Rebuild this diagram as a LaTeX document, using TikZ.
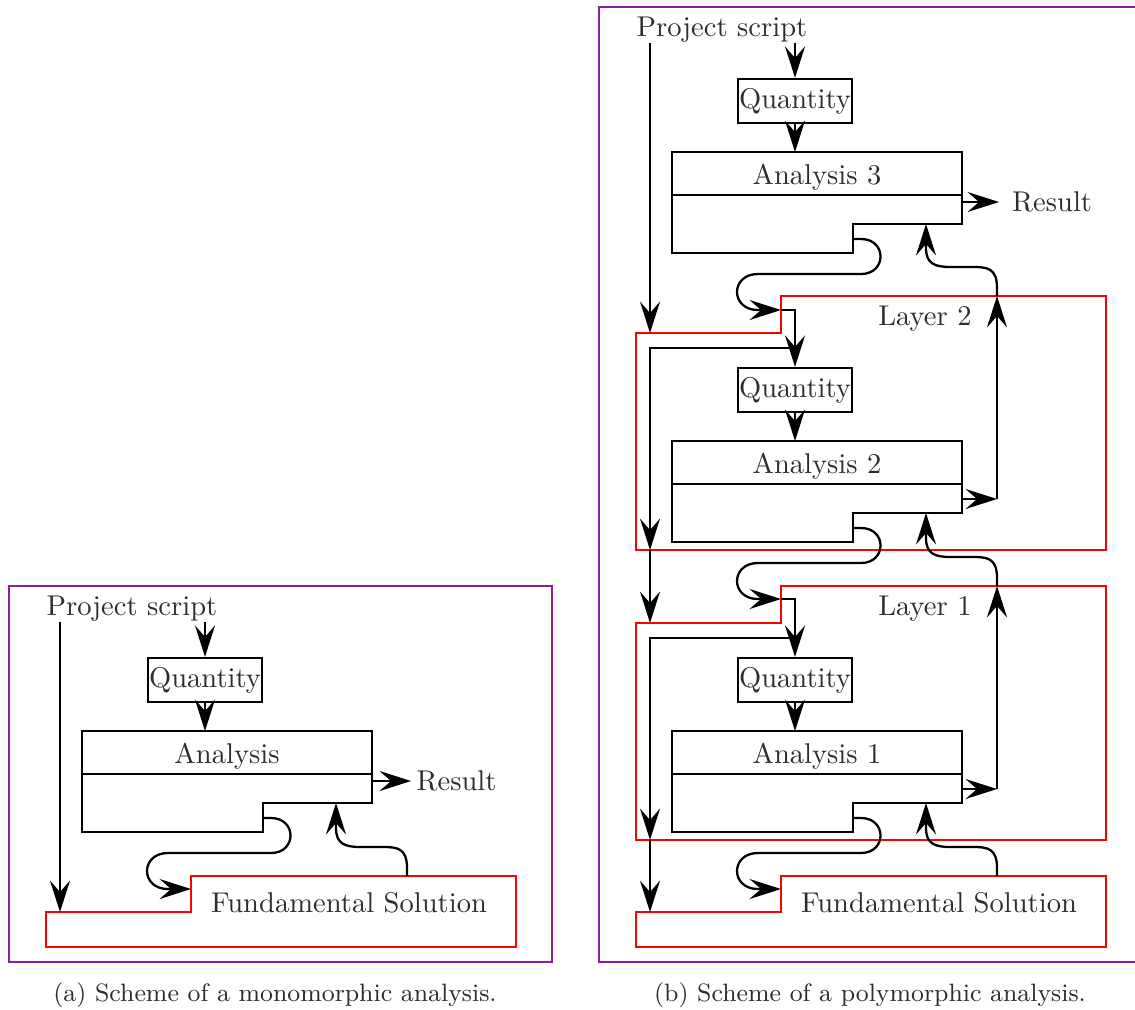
\documentclass[tikz,border=0pt]{standalone}
\usetikzlibrary{arrows.meta}
\definecolor{framecol}{RGB}{140,30,150}
\definecolor{txtcol}{RGB}{45,45,45}
\tikzset{
  ln/.style={line width=0.8pt},
  arr/.style={line width=0.8pt,-{Stealth[length=11pt,width=7pt,inset=4pt]}},
  qbox/.style={draw,line width=0.8pt,inner xsep=0.4pt,inner ysep=0pt,minimum height=15.4pt,text=txtcol},
  lbl/.style={text=txtcol,inner sep=0pt},
  redshape/.style={draw=red,line width=0.8pt},
  frameline/.style={draw=framecol,line width=0.6pt},
  capt/.style={text=txtcol,inner sep=0pt,anchor=base,font=\fontsize{8.8}{10}\selectfont},
}
% #1 = top y of analysis box, #2 = name prefix, #3 = label
\newcommand\anaunit[3]{%
\begin{scope}[shift={(0,#1)}]
  \node[qbox] (#2q) at (205,-51) {Quantity};
  \draw[ln] (82,0) -- (372,0) -- (372,72) -- (263,72) -- (263,101) -- (82,101) -- cycle;
  \draw[ln] (82,43) -- (372,43);
  \node[lbl,anchor=base] (#2lab) at (227,32) {#3};
  \coordinate (#2top) at (205,0);
  \coordinate (#2step) at (263,87);
  \coordinate (#2back) at (336,72);
  \coordinate (#2res) at (372,50);
  \coordinate (#2resl) at (372,58);
  \coordinate (#2sol) at (191,158);
  \draw[arr] (#2q) -- (#2top);
  \draw[arr] (#2step) -- ++(8,0) .. controls +(26,0) and +(26,0) .. ++(0,35) -- (168,122) .. controls +(-28,0) and +(-28,0) .. (168,158) -- (#2sol);
\end{scope}}
% S-shaped return connector from #1 (below) to #2 (above)
\newcommand\sback{}
\renewcommand\sback[2]{%
  \draw[arr] (#1) -- ++(0,-8) .. controls +(0,-20) and +(14,0) .. ++(-24,-21) -- ++(-22,0) .. controls +(-16,0) and +(0,16) .. ++(-25,-19) -- (#2);
}
\begin{document}
\begin{tikzpicture}[x=0.35pt,y=-0.35pt]
\useasboundingbox (0,0) rectangle (1135,1009);

% ---------------- (a) monomorphic ----------------
\draw[frameline] (9,586) rectangle (552,962);
\node[lbl,anchor=base] (ps) at (132,615.5) {Project script};
\coordinate (psl) at (60,622);
\coordinate (psq) at (205,622);
\anaunit{731}{m}{Analysis}
\draw[arr] (psq) -- (mq);
\node[lbl,anchor=west,inner xsep=1.75pt] (mresult) at (411,781) {Result};
\draw[arr] (mres) -- (mresult);
\draw[redshape] (191,876) -- (516,876) -- (516,947) -- (46,947) -- (46,912) -- (191,912) -- cycle;
\node[lbl,anchor=base] (mfs) at (349,912) {Fundamental Solution};
\coordinate (mfsin) at (60,912);
\coordinate (mfsout) at (407,876);
\draw[arr] (psl) -- (mfsin);
\sback{mfsout}{mback}
\node[capt] (capa) at (275,1001) {(a) Scheme of a monomorphic analysis.};

% ---------------- (b) polymorphic ----------------
\draw[frameline] (1135,7) -- (599,7) -- (599,962) -- (1135,962);
\node[capt] (capb) at (870,1001) {(b) Scheme of a polymorphic analysis.};
\begin{scope}[shift={(590,0)}]
  \node[lbl,anchor=base] (pps) at (132,36.5) {Project script};
  \coordinate (ppsl) at (60,43);
  \coordinate (ppsq) at (205,43);
  \anaunit{152}{c}{Analysis 3}
  \draw[arr] (ppsq) -- (cq);
  \node[lbl,anchor=west,inner xsep=4.4pt] (cresult) at (409,202) {Result};
  \draw[arr] (cres) -- (cresult);

  % Layer 2
  \draw[redshape] (191,296) -- (516,296) -- (516,550) -- (46,550) -- (46,333) -- (191,333) -- cycle;
  \node[lbl,anchor=base] (l2lab) at (335,325) {Layer 2};
  \anaunit{441}{b}{Analysis 2}
  \coordinate (l2in) at (60,333);
  \coordinate (l2join) at (205,348);
  \coordinate (l2bot) at (60,550);
  \coordinate (l2r) at (407,499);
  \coordinate (l2top) at (407,296);
  \draw[arr] (ppsl) -- (l2in);
  \draw[arr] (csol) -| (bq);
  \draw[arr] (l2join) -| (l2bot);
  \draw[arr] (bresl) -- (l2r);
  \draw[arr] (l2r) -- (l2top);
  \sback{l2top}{cback}

  % Layer 1
  \draw[redshape] (191,586) -- (516,586) -- (516,840) -- (46,840) -- (46,623) -- (191,623) -- cycle;
  \node[lbl,anchor=base] (l1lab) at (335,615) {Layer 1};
  \anaunit{731}{a}{Analysis 1}
  \coordinate (l1in) at (60,623);
  \coordinate (l1join) at (205,638);
  \coordinate (l1bot) at (60,840);
  \coordinate (l1r) at (407,789);
  \coordinate (l1top) at (407,586);
  \draw[arr] (l2bot) -- (l1in);
  \draw[arr] (bsol) -| (aq);
  \draw[arr] (l1join) -| (l1bot);
  \draw[arr] (aresl) -- (l1r);
  \draw[arr] (l1r) -- (l1top);
  \sback{l1top}{bback}

  % Fundamental solution
  \draw[redshape] (191,876) -- (516,876) -- (516,947) -- (46,947) -- (46,912) -- (191,912) -- cycle;
  \node[lbl,anchor=base] (pfs) at (349,912) {Fundamental Solution};
  \coordinate (fin) at (60,912);
  \coordinate (fout) at (407,876);
  \draw[arr] (l1bot) -- (fin);
  \sback{fout}{aback}
\end{scope}
\end{tikzpicture}
\end{document}
